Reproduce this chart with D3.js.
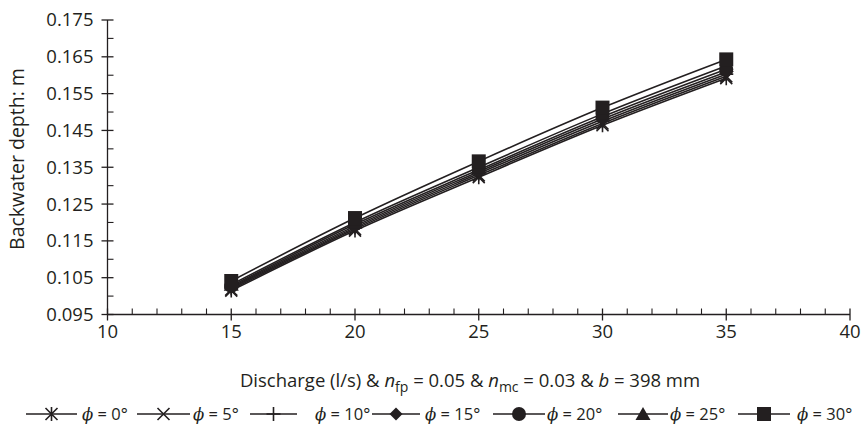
<!DOCTYPE html>
<html lang="en">
<head>
<meta charset="UTF-8">
<title>Backwater depth</title>
<script src="https://d3js.org/d3.v7.js"></script>
<style>
  body { margin: 0; background: #fff; }
  text { font-family: "Open Sans", "Noto Sans", sans-serif; fill: #231f20; }
</style>
</head>
<body>
<svg></svg>
<script>
    // discharge values (l/s)
    let discharge = [15, 20, 25, 30, 35];
    let angles = [0, 5, 10, 15, 20, 25, 30];
    let depth0 = [0.1015, 0.1178, 0.1323, 0.1464, 0.1592];
    let depth5 = [0.1018, 0.1182, 0.1328, 0.1469, 0.1597];
    let depth10 = [0.1021, 0.1186, 0.1333, 0.1475, 0.1603];
    let depth15 = [0.1024, 0.1190, 0.1338, 0.1481, 0.1609];
    let depth20 = [0.1027, 0.1195, 0.1343, 0.1487, 0.1616];
    let depth25 = [0.1031, 0.1200, 0.1350, 0.1495, 0.1625];
    let depth30 = [0.1041, 0.1212, 0.1366, 0.1512, 0.1643];
    let yTicks = ["0.095", "0.105", "0.115", "0.125", "0.135", "0.145", "0.155", "0.165", "0.175"];
    let xTicks = [10, 15, 20, 25, 30, 35, 40];

    let series = [depth0, depth5, depth10, depth15, depth20, depth25, depth30];
    let markers = ["asterisk", "cross", "plus", "diamond", "circle", "triangle", "square"];

    let width = 862, height = 437;
    let ink = "#231f20";
    let fs = "18.5px";

    let svg = d3.select("svg").attr("width", width).attr("height", height);

    let x = d3.scaleLinear().domain([10, 40]).range([107.5, 850]);
    let y = d3.scaleLinear().domain([0.095, 0.175]).range([314.5, 20]);

    // y axis: major ticks crossing, minor ticks inside
    let gy = svg.append("g");
    gy.append("line").attr("x1", x(10)).attr("x2", x(10)).attr("y1", y(0.175)).attr("y2", y(0.095))
        .attr("stroke", ink).attr("stroke-width", 1.3);
    yTicks.forEach(function (t) {
        let v = +t;
        gy.append("line").attr("x1", x(10) - 6).attr("x2", x(10) + 6)
            .attr("y1", y(v)).attr("y2", y(v)).attr("stroke", ink).attr("stroke-width", 1.3);
        gy.append("text").attr("x", x(10) - 14).attr("y", y(v)).attr("dy", "0.35em")
            .attr("text-anchor", "end").style("font-size", fs).text(t);
        if (v < 0.17) {
            gy.append("line").attr("x1", x(10)).attr("x2", x(10) + 6)
                .attr("y1", y(v + 0.005)).attr("y2", y(v + 0.005)).attr("stroke", ink).attr("stroke-width", 1.1);
        }
    });

    // x axis
    let gx = svg.append("g");
    gx.append("line").attr("x1", x(10)).attr("x2", x(40)).attr("y1", y(0.095)).attr("y2", y(0.095))
        .attr("stroke", ink).attr("stroke-width", 1.3);
    d3.range(10, 41, 1).forEach(function (v) {
        let major = v % 5 === 0;
        gx.append("line").attr("x1", x(v)).attr("x2", x(v))
            .attr("y1", y(0.095) - 6).attr("y2", y(0.095) + (major ? 6 : 0))
            .attr("stroke", ink).attr("stroke-width", major ? 1.3 : 1.1);
    });
    xTicks.forEach(function (v) {
        gx.append("text").attr("x", x(v)).attr("y", y(0.095) + 23)
            .attr("text-anchor", "middle").style("font-size", fs).text(v);
    });

    // axis titles
    let xt = svg.append("text").attr("x", 470).attr("y", 387).attr("text-anchor", "middle")
        .style("font-size", "18.5px");
    xt.append("tspan").text("Discharge (l/s) & ");
    xt.append("tspan").style("font-style", "italic").text("n");
    xt.append("tspan").attr("dy", 5).style("font-size", "14px").text("fp");
    xt.append("tspan").attr("dy", -5).text(" = 0.05 & ");
    xt.append("tspan").style("font-style", "italic").text("n");
    xt.append("tspan").attr("dy", 5).style("font-size", "14px").text("mc");
    xt.append("tspan").attr("dy", -5).text(" = 0.03 & ");
    xt.append("tspan").style("font-style", "italic").text("b");
    xt.append("tspan").text(" = 398 mm");

    svg.append("text").attr("transform", "translate(24,159) rotate(-90)")
        .attr("text-anchor", "middle").style("font-size", "19.5px").text("Backwater depth: m");

    // marker drawing
    function drawMarker(g, type, cx, cy) {
        let m = g.append("g").attr("transform", "translate(" + cx + "," + cy + ")");
        if (type === "square") {
            m.append("rect").attr("x", -7).attr("y", -7).attr("width", 14).attr("height", 14).attr("fill", ink);
        } else if (type === "circle") {
            m.append("circle").attr("r", 7).attr("fill", ink);
        } else if (type === "triangle") {
            m.append("path").attr("d", "M0,-7L7.5,6L-7.5,6Z").attr("fill", ink);
        } else if (type === "diamond") {
            m.append("path").attr("d", "M0,-6.5L6.5,0L0,6.5L-6.5,0Z").attr("fill", ink);
        } else if (type === "plus") {
            m.append("path").attr("d", "M-7,0H7M0,-7V7").attr("stroke", ink).attr("stroke-width", 1.6);
        } else if (type === "cross") {
            m.append("path").attr("d", "M-6,-6L6,6M-6,6L6,-6").attr("stroke", ink).attr("stroke-width", 1.6);
        } else if (type === "asterisk") {
            m.append("path").attr("d", "M-6,-6L6,6M-6,6L6,-6M0,-7V7").attr("stroke", ink).attr("stroke-width", 1.6);
        }
    }

    let line = d3.line()
        .x(d => x(d[0]))
        .y(d => y(d[1]))
        .curve(d3.curveMonotoneX);

    let plot = svg.append("g");
    series.forEach(function (s, i) {
        let pts = discharge.map((q, j) => [q, s[j]]);
        plot.append("path").attr("d", line(pts)).attr("fill", "none")
            .attr("stroke", ink).attr("stroke-width", 1.6);
    });
    series.forEach(function (s, i) {
        discharge.forEach(function (q, j) {
            drawMarker(plot, markers[i], x(q), y(s[j]));
        });
    });

    // legend
    let legLineStart = [26, 137, 250, 372, 493, 618, 738];
    let legLineEnd = [77, 190, 297, 420, 545, 668, 790];
    let legTextStart = [82, 193, 315, 425, 547, 670, 797];
    let legY = 414;
    let leg = svg.append("g");
    angles.forEach(function (a, i) {
        leg.append("line").attr("x1", legLineStart[i]).attr("x2", legLineEnd[i])
            .attr("y1", legY).attr("y2", legY).attr("stroke", ink).attr("stroke-width", 1.6);
        drawMarker(leg, markers[i], (legLineStart[i] + legLineEnd[i]) / 2, legY);
        let t = leg.append("text").attr("x", legTextStart[i]).attr("y", legY).attr("dy", "0.35em")
            .style("font-size", "16.5px");
        t.append("tspan").style("font-style", "italic").style("font-family", "'DejaVu Serif', serif").text("\u03d5");
        t.append("tspan").text(" = " + a + "\u00b0");
    });
</script>
</body>
</html>
